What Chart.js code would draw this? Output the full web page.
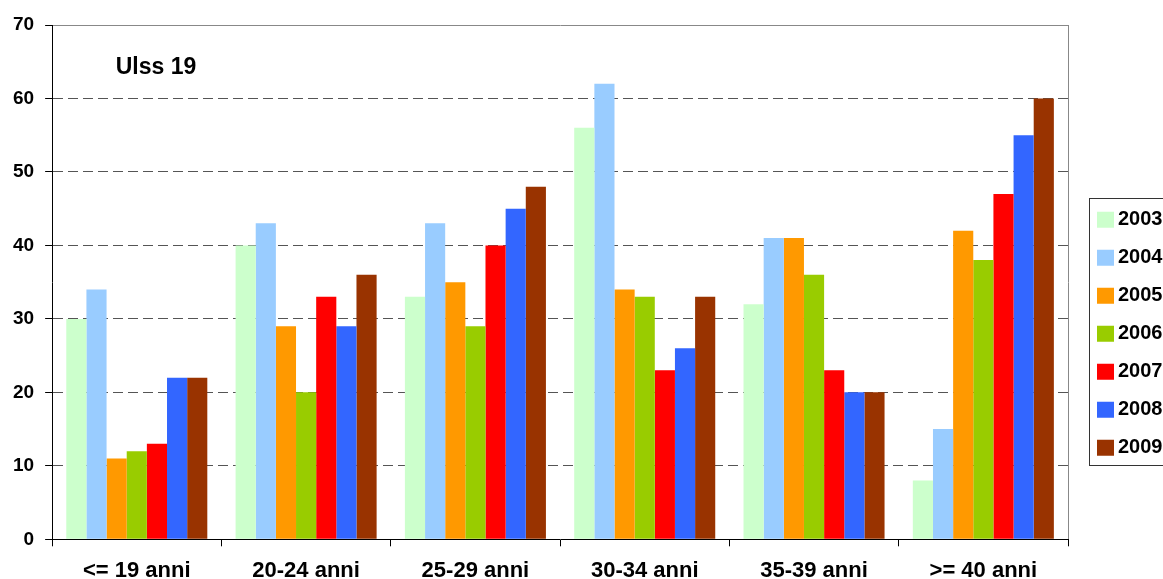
<!DOCTYPE html>
<html>
<head>
<meta charset="utf-8">
<script src="https://cdn.jsdelivr.net/npm/chart.js@4.4.0/dist/chart.umd.min.js"></script>
<style>
  html, body { margin: 0; padding: 0; background: #fff; overflow: hidden; }
</style>
</head>
<body>
<canvas id="chart" width="1163" height="579"></canvas>
<script>
const categories = ['<= 19 anni', '20-24 anni', '25-29 anni', '30-34 anni', '35-39 anni', '>= 40 anni'];
const years = ['2003', '2004', '2005', '2006', '2007', '2008', '2009'];
const yearColors = ['#CCFFCC', '#99CCFF', '#FF9900', '#99CC00', '#FF0000', '#3366FF', '#993300'];

const values2003 = [30, 40, 33, 56, 32, 8];
const values2004 = [34, 43, 43, 62, 41, 15];
const values2005 = [11, 29, 35, 34, 41, 42];
const values2006 = [12, 20, 29, 33, 36, 38];
const values2007 = [13, 33, 40, 23, 23, 47];
const values2008 = [22, 29, 45, 26, 20, 55];
const values2009 = [22, 36, 48, 33, 20, 60];
const allValues = [values2003, values2004, values2005, values2006, values2007, values2008, values2009];

const yMin = 0, yMax = 70, yStep = 10;
const chartTitle = 'Ulss 19';

const FONT = 'Arial, "Liberation Sans", sans-serif';

// legend is moved to the right of the plot and boxed, like the original
const legendPlace = {
  id: 'legendPlace',
  afterLayout(chart) {
    const lg = chart.legend;
    lg.left = 1085;
    lg.right = lg.left + 120;
    lg.width = 120;
    lg.top = 191.7;
    lg.height = 284;
    lg.bottom = lg.top + lg.height;
  },
  afterDraw(chart) {
    const ctx = chart.ctx;
    ctx.save();
    ctx.strokeStyle = '#333';
    ctx.lineWidth = 1;
    ctx.strokeRect(1089.5, 198.5, 120, 267);
    ctx.restore();
  }
};

// "Ulss 19" inside the plot area
const innerTitle = {
  id: 'innerTitle',
  afterDraw(chart) {
    const ctx = chart.ctx;
    ctx.save();
    ctx.font = 'bold 23px ' + FONT;
    ctx.fillStyle = '#000';
    ctx.textAlign = 'center';
    ctx.textBaseline = 'alphabetic';
    ctx.fillText(chartTitle, 156, 74);
    ctx.restore();
  }
};

const ctx = document.getElementById('chart').getContext('2d');
new Chart(ctx, {
  type: 'bar',
  data: {
    labels: categories,
    datasets: years.map((y, i) => ({
      label: y,
      data: allValues[i],
      backgroundColor: yearColors[i],
      borderWidth: 0,
      categoryPercentage: 0.833,
      barPercentage: 1.0
    }))
  },
  options: {
    responsive: false,
    animation: false,
    layout: { padding: { left: 2, right: 95, top: 25, bottom: -16.7 } },
    plugins: {
      title: { display: false },
      tooltip: { enabled: false },
      legend: {
        position: 'chartArea',
        labels: {
          color: '#000',
          font: { family: FONT, size: 20, weight: 'bold' },
          boxWidth: 5,
          boxHeight: 4,
          padding: 18,
          generateLabels(chart) {
            const items = Chart.defaults.plugins.legend.labels.generateLabels(chart);
            return items.map(it => Object.assign(it, {
              lineWidth: 12, strokeStyle: it.fillStyle, lineJoin: 'miter'
            }));
          }
        }
      }
    },
    scales: {
      x: {
        grid: {
          drawOnChartArea: false,
          tickLength: 7,
          tickColor: '#000',
          offset: true
        },
        border: { color: '#000', width: 1, z: 1 },
        ticks: {
          color: '#000',
          padding: 11.5,
          font: { family: FONT, size: 22, weight: 'bold' }
        }
      },
      x2: {
        position: 'top',
        grid: { display: false, drawTicks: false },
        border: { color: '#888', width: 1 },
        ticks: { display: false }
      },
      y: {
        min: yMin,
        max: yMax,
        ticks: {
          stepSize: yStep,
          color: '#000',
          padding: 11,
          font: { family: FONT, size: 19, weight: 'bold' }
        },
        grid: {
          color: '#555',
          lineWidth: 1,
          tickLength: 7,
          tickColor: '#000',
          tickBorderDash: []
        },
        border: { color: '#000', width: 1, dash: [10, 5] }
      },
      y2: {
        position: 'right',
        grid: { display: false, drawTicks: false },
        border: { color: '#888', width: 1 },
        ticks: { display: false }
      }
    }
  },
  plugins: [legendPlace, innerTitle]
});
</script>
</body>
</html>
